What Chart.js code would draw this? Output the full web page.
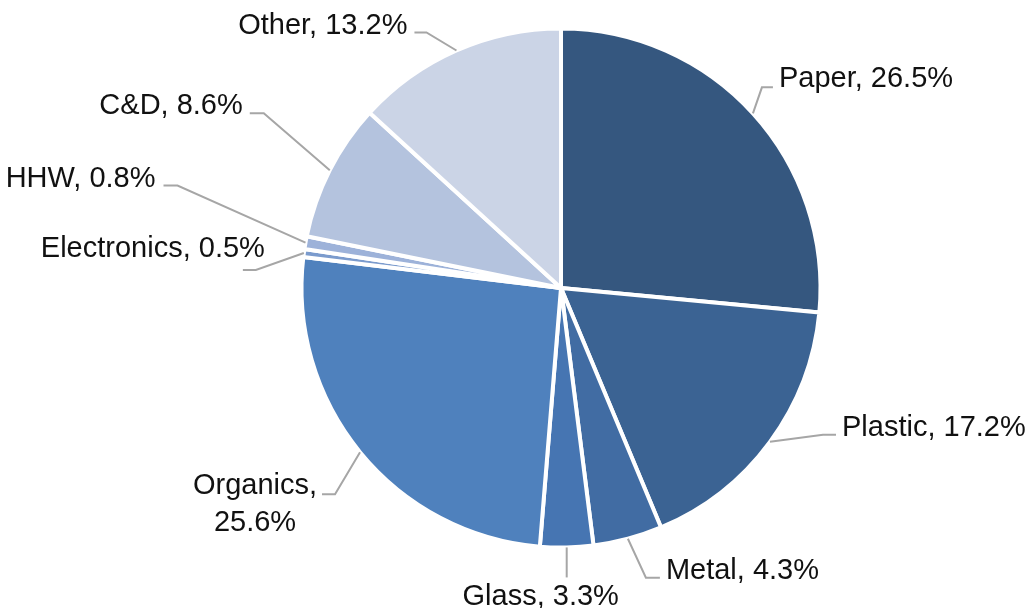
<!DOCTYPE html>
<html>
<head>
<meta charset="utf-8">
<title>Waste composition</title>
<script src="https://cdn.jsdelivr.net/npm/chart.js@4.4.1/dist/chart.umd.min.js"></script>
<style>
  html, body { margin: 0; padding: 0; background: #fff; }
  #wrap { width: 1031px; height: 608px; position: relative; }
</style>
</head>
<body>
<div id="wrap"><canvas id="wasteChart" width="1031" height="608"></canvas></div>
<script>
// composition shares, clockwise from 12 o'clock
const categories = ['Paper', 'Plastic', 'Metal', 'Glass', 'Organics', 'Electronics', 'HHW', 'C&D', 'Other'];
const shares = [26.5, 17.2, 4.3, 3.3, 25.6, 0.5, 0.8, 8.6, 13.2];
const sliceColors = ['#35577f', '#3b6393', '#416ca3', '#4675b2', '#4f81bd', '#7b9bcd', '#9db2d9', '#b4c3de', '#cbd4e6'];

// leader line and label placement, relative to the point on the rim at mid-angle
// elbow / end of leader, text baseline anchor, text alignment
const labelLayout = [
  { elbow: [9, -26],    end: [20, -26],   text: [26, -26],   align: 'left' },
  { elbow: [53, -7],    end: [66, -7],    text: [72, -6],    align: 'left' },
  { elbow: [18, 39],    end: [32, 39],    text: [38, 40],    align: 'left' },
  { elbow: [0, 30],     end: [0, 30],     text: [-26, 58],   align: 'center' },
  { elbow: [-25, 42],   end: [-38, 42],   text: [-105, 42],  align: 'center', split: true },
  { elbow: [-48, 17],   end: [-61, 17],   text: [-39, 4],    align: 'right' },
  { elbow: [-128, -57], end: [-142, -57], text: [-150, -56], align: 'right' },
  { elbow: [-66, -57],  end: [-80, -57],  text: [-87, -56],  align: 'right' },
  { elbow: [-30, -18],  end: [-42, -18],  text: [-49, -16],  align: 'right' }
];

const leaderLabels = {
  id: 'leaderLabels',
  afterDatasetsDraw(chart) {
    const ctx = chart.ctx;
    const arcs = chart.getDatasetMeta(0).data;
    ctx.save();
    ctx.font = '29px "Liberation Sans", Arial, sans-serif';
    ctx.fillStyle = '#111111';
    ctx.textBaseline = 'alphabetic';
    arcs.forEach((arc, i) => {
      const p = arc.getProps(['x', 'y', 'startAngle', 'endAngle', 'outerRadius'], true);
      const mid = (p.startAngle + p.endAngle) / 2;
      const r = p.outerRadius;
      const ex = p.x + Math.cos(mid) * r;
      const ey = p.y + Math.sin(mid) * r;
      const lay = labelLayout[i];

      ctx.strokeStyle = '#a6a6a6';
      ctx.lineWidth = 2;
      ctx.beginPath();
      ctx.moveTo(ex, ey);
      ctx.lineTo(ex + lay.elbow[0], ey + lay.elbow[1]);
      ctx.lineTo(ex + lay.end[0], ey + lay.end[1]);
      ctx.stroke();

      ctx.textAlign = lay.align;
      const tx = ex + lay.text[0];
      const ty = ey + lay.text[1];
      const value = shares[i].toFixed(1) + '%';
      if (lay.split) {
        ctx.fillText(categories[i] + ',', tx, ty);
        ctx.fillText(value, tx, ty + 37);
      } else {
        ctx.fillText(categories[i] + ', ' + value, tx, ty);
      }
    });
    ctx.restore();
  }
};

new Chart(document.getElementById('wasteChart'), {
  type: 'pie',
  data: {
    labels: categories,
    datasets: [{
      data: shares,
      backgroundColor: sliceColors,
      borderColor: '#ffffff',
      borderWidth: 4,
      radius: 259.5
    }]
  },
  options: {
    responsive: false,
    animation: false,
    events: [],
    layout: { padding: { left: 131, right: 40, top: 20, bottom: 52 } },
    plugins: {
      legend: { display: false },
      tooltip: { enabled: false }
    }
  },
  plugins: [leaderLabels]
});
</script>
</body>
</html>
